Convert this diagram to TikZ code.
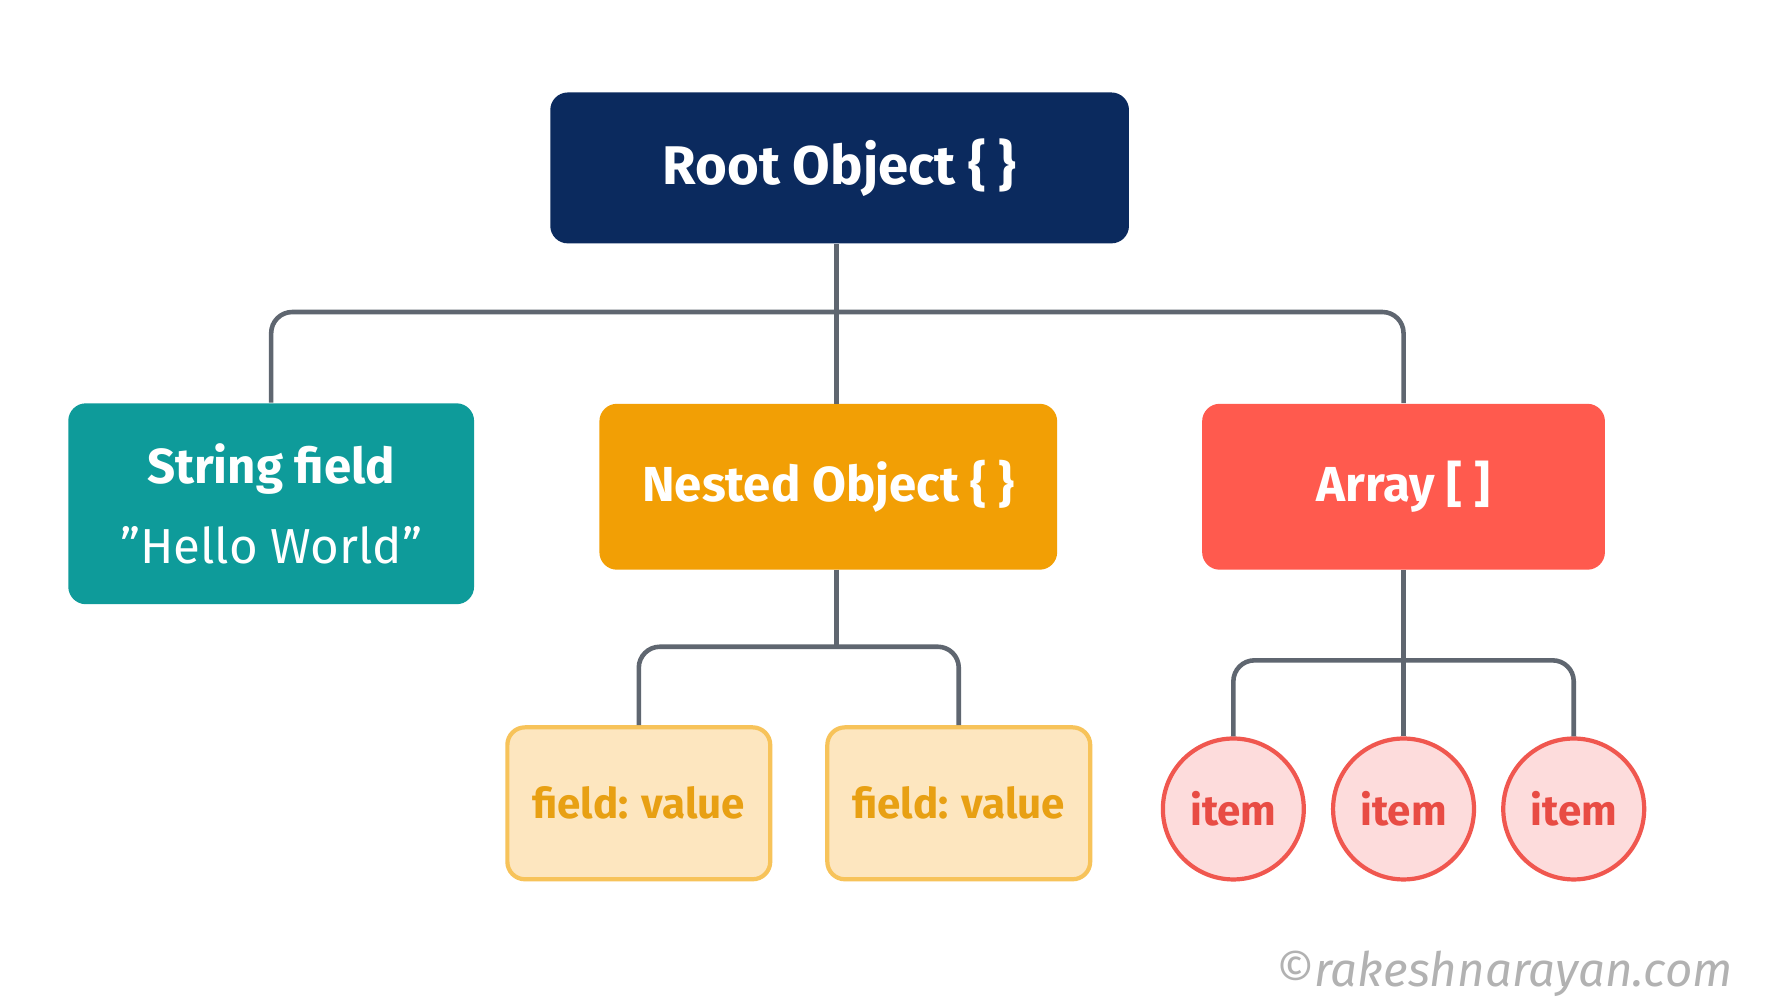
\documentclass[tikz,border=0pt]{standalone}
\usepackage{fontspec}
\setmainfont{Fira Sans}
\usetikzlibrary{positioning}
\definecolor{rootblue}{HTML}{0B2A5E}
\definecolor{teal}{HTML}{0E9B9A}
\definecolor{amber}{HTML}{F29F05}
\definecolor{coral}{HTML}{FF5A4E}
\definecolor{amberfill}{HTML}{FDE6BF}
\definecolor{amberline}{HTML}{F7C35A}
\definecolor{ambertext}{HTML}{E8A013}
\definecolor{pinkfill}{HTML}{FDDCDC}
\definecolor{pinkline}{HTML}{F0574F}
\definecolor{pinktext}{HTML}{E84C44}
\definecolor{wire}{HTML}{5F6670}
\begin{document}
\begin{tikzpicture}[x=0.011346cm, y=-0.011346cm]
    \tikzstyle{box}=[rectangle,rounded corners=5pt,inner sep=0pt,align=center,text=white]
    \tikzstyle{main box}=[box,fill=rootblue,minimum width=5.79cm,minimum height=1.51cm,font=\fontsize{15.5}{19}\selectfont\bfseries]
    \tikzstyle{kid box}=[box,minimum width=4.06cm,minimum height=1.66cm,font=\fontsize{14}{17}\selectfont\bfseries]
    \tikzstyle{leaf box}=[box,fill=amberfill,draw=amberline,line width=1.2pt,text=ambertext,minimum width=2.63cm,minimum height=1.52cm,font=\fontsize{12}{15}\selectfont\bfseries]
    \tikzstyle{item}=[circle,fill=pinkfill,draw=pinkline,line width=1.2pt,text=pinktext,minimum size=1.41cm,inner sep=0pt,font=\fontsize{12}{15}\selectfont\bfseries]
    \tikzstyle{wire}=[draw=wire,line width=1.3pt,rounded corners=6pt]

    \useasboundingbox[fill=white] (0,0) rectangle (1560,878);

    % Top level
    \node[main box] (root) at (740,148) {Root Object \{ \}};

    % Second level
    \node[kid box,fill=teal,minimum height=2.01cm] (str) at (239,444) {String field\\[6pt]{\mdseries \symbol{34}Hello World\symbol{34}}};
    \node[kid box,fill=amber,minimum width=4.58cm] (nst) at (730,429) {Nested Object \{ \}};
    \node[kid box,fill=coral,minimum width=4.03cm] (arr) at (1237,429) {Array [ ]};

    % Leaves
    \node[leaf box] (f1) at (563,708) {field: value};
    \node[leaf box] (f2) at (845,708) {field: value};
    \foreach \name / \x in {1/1087,2/1237,3/1387}
        \node[item] (I-\name) at (\x,713) {item};

    % Connectors
    \path[wire] (str.north) |- (737,275) -| (arr.north);
    \path[wire] (737,215) -- (737,356);
    \path[wire] (f1.north) |- (737,570) -| (f2.north);
    \path[wire] (737,502) -- (737,570);
    \path[wire] (I-1.north) |- (1237,582) -| (I-3.north);
    \path[wire] (arr.south) -- (I-2.north);

    % Watermark
    \node[text=gray!60,font=\fontsize{13.5}{16}\selectfont\itshape,anchor=east] (mark) at (1538,858) {\textcopyright rakeshnarayan.com};
\end{tikzpicture}
\end{document}
